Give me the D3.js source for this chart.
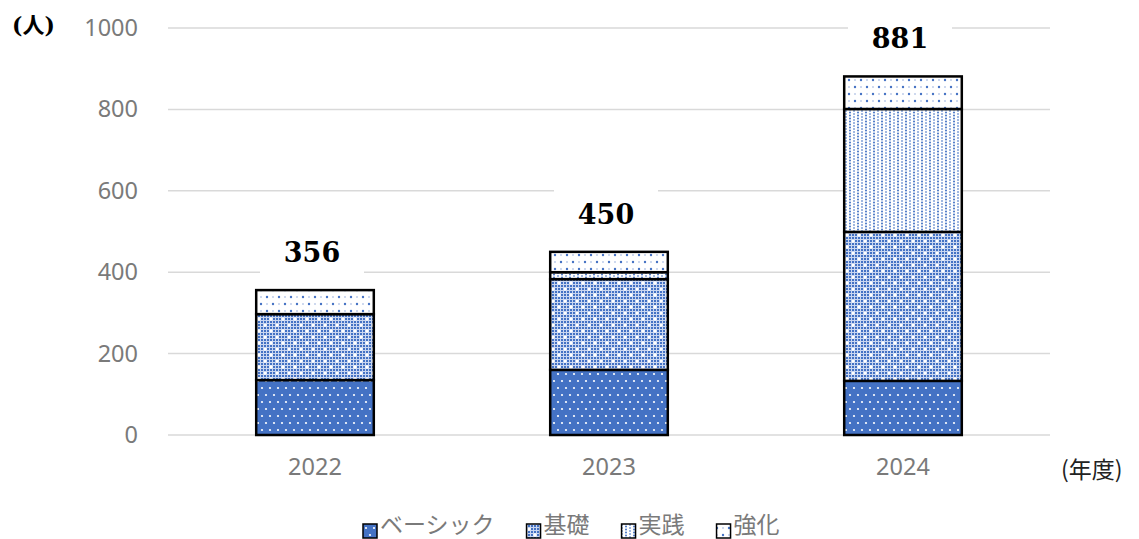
<!DOCTYPE html>
<html>
<head>
<meta charset="utf-8">
<script src="https://cdn.jsdelivr.net/npm/d3@7"></script>
<style>
  html, body { margin: 0; padding: 0; background: #fff; }
  svg { display: block; }
</style>
</head>
<body>
<div id="chart"></div>
<script>
var years = ['2022', '2023', '2024'];
var seriesNames = ['ベーシック', '基礎', '実践', '強化'];
var basic = [135, 160, 133];
var kiso = [162, 223, 366];
var jissen = [0, 17, 302];
var kyouka = [59, 50, 80];
var totals = [356, 450, 881];
var yTicks = [0, 200, 400, 600, 800, 1000];

var width = 1139;
var height = 539;
var blue = '#4472C4';
var textGray = '#7a7a7a';

var svg = d3.select('#chart')
  .append('svg')
  .attr('width', width)
  .attr('height', height);

// patterns
var defs = svg.append('defs');

var p0 = defs.append('pattern').attr('id', 'pat0')
  .attr('patternUnits', 'userSpaceOnUse').attr('width', 8).attr('height', 14);
p0.append('rect').attr('width', 8).attr('height', 14).attr('fill', blue);
p0.append('circle').attr('cx', 2).attr('cy', 3).attr('r', 1.1).attr('fill', '#fff');
p0.append('circle').attr('cx', 6).attr('cy', 10).attr('r', 1.1).attr('fill', '#fff');

var p1 = defs.append('pattern').attr('id', 'pat1')
  .attr('patternUnits', 'userSpaceOnUse').attr('width', 12).attr('height', 12);
p1.append('rect').attr('width', 12).attr('height', 12).attr('fill', '#c9d6f0');
for (var i = 0; i < 4; i++) {
  for (var j = 0; j < 4; j++) {
    p1.append('rect').attr('x', i * 3).attr('y', j * 3)
      .attr('width', 2).attr('height', 2).attr('fill', blue);
  }
}
p1.append('circle').attr('cx', 1).attr('cy', 1).attr('r', 1.7).attr('fill', '#fff');
p1.append('circle').attr('cx', 7).attr('cy', 7).attr('r', 1.7).attr('fill', '#fff');

var p2 = defs.append('pattern').attr('id', 'pat2')
  .attr('patternUnits', 'userSpaceOnUse').attr('width', 8).attr('height', 6);
p2.append('rect').attr('width', 8).attr('height', 6).attr('fill', '#fff');
p2.append('circle').attr('cx', 2).attr('cy', 1.5).attr('r', 1).attr('fill', blue);
p2.append('circle').attr('cx', 2).attr('cy', 4.5).attr('r', 1).attr('fill', blue);
p2.append('circle').attr('cx', 6).attr('cy', 0).attr('r', 1).attr('fill', '#7f9fd8');
p2.append('circle').attr('cx', 6).attr('cy', 3).attr('r', 1).attr('fill', '#7f9fd8');
p2.append('circle').attr('cx', 6).attr('cy', 6).attr('r', 1).attr('fill', '#7f9fd8');

var p3 = defs.append('pattern').attr('id', 'pat3')
  .attr('patternUnits', 'userSpaceOnUse').attr('width', 12).attr('height', 14);
p3.append('rect').attr('width', 12).attr('height', 14).attr('fill', '#fff');
p3.append('circle').attr('cx', 3).attr('cy', 3).attr('r', 1.2).attr('fill', blue);
p3.append('circle').attr('cx', 9).attr('cy', 10).attr('r', 1.2).attr('fill', blue);
p3.append('circle').attr('cx', 9).attr('cy', 3).attr('r', 0.8).attr('fill', '#8faadc');
p3.append('circle').attr('cx', 3).attr('cy', 10).attr('r', 0.8).attr('fill', '#8faadc');

var x = d3.scaleBand()
  .domain(years)
  .range([168, 1050])
  .paddingInner(0.6)
  .paddingOuter(0.3);

var y = d3.scaleLinear()
  .domain([0, 1000])
  .range([435, 28]);

// gridlines
svg.append('g')
  .selectAll('line')
  .data(yTicks)
  .enter()
  .append('line')
  .attr('x1', 168).attr('x2', 1050)
  .attr('y1', function(d) { return y(d); })
  .attr('y2', function(d) { return y(d); })
  .attr('stroke', '#d9d9d9')
  .attr('stroke-width', 1.5);

// y axis labels
var yAxis = d3.axisLeft(y).tickValues(yTicks).tickFormat(d3.format('d')).tickSize(0).tickPadding(0);
var yg = svg.append('g').attr('transform', 'translate(138,0)').call(yAxis);
yg.select('.domain').remove();
yg.selectAll('text')
  .attr('fill', textGray)
  .style('font-family', '"Noto Sans", "DejaVu Sans", sans-serif')
  .style('font-size', '23.5px');

// x axis labels
var xAxis = d3.axisBottom(x).tickSize(0).tickPadding(0);
var xg = svg.append('g').attr('transform', 'translate(0,458)').call(xAxis);
xg.select('.domain').remove();
xg.selectAll('text')
  .attr('fill', textGray)
  .style('font-family', '"Noto Sans", "DejaVu Sans", sans-serif')
  .style('font-size', '23.5px');

// stacked bars
var table = years.map(function(yr, i) {
  return { year: yr, 'ベーシック': basic[i], '基礎': kiso[i], '実践': jissen[i], '強化': kyouka[i] };
});
var stack = d3.stack().keys(seriesNames);
var layers = stack(table);

svg.append('g')
  .selectAll('g')
  .data(layers)
  .enter()
  .append('g')
  .attr('fill', function(d, i) { return 'url(#pat' + i + ')'; })
  .selectAll('rect')
  .data(function(d) { return d.filter(function(s) { return s[1] - s[0] > 0; }); })
  .enter()
  .append('rect')
  .attr('x', function(d) { return x(d.data.year); })
  .attr('width', x.bandwidth())
  .attr('y', function(d) { return y(d[1]); })
  .attr('height', function(d) { return y(d[0]) - y(d[1]); })
  .attr('stroke', '#000')
  .attr('stroke-width', 2.5);

// total labels with white boxes
var lab = svg.append('g')
  .selectAll('g')
  .data(years)
  .enter()
  .append('g')
  .attr('transform', function(d, i) {
    return 'translate(' + (x(d) + x.bandwidth() / 2 - 3) + ',' + (y(totals[i]) - 38) + ')';
  });
lab.append('rect')
  .attr('x', -52).attr('y', -26).attr('width', 104).attr('height', 52)
  .attr('fill', '#fff');
lab.append('text')
  .attr('text-anchor', 'middle')
  .attr('dy', '0.36em')
  .style('font-family', '"DejaVu Serif", serif')
  .style('font-weight', 'bold')
  .style('font-size', '27px')
  .attr('fill', '#000')
  .text(function(d, i) { return totals[i]; });

// unit labels
svg.append('text')
  .attr('x', 12).attr('y', 33)
  .style('font-family', '"DejaVu Serif", "Noto Sans CJK JP", serif')
  .style('font-weight', 'bold')
  .style('font-size', '22px')
  .attr('fill', '#000')
  .text('(人)');

svg.append('text')
  .attr('x', 1061).attr('y', 478)
  .style('font-family', '"Noto Sans CJK JP", sans-serif')
  .style('font-size', '23px')
  .attr('fill', '#222')
  .text('(年度)');

// legend
var legend = svg.append('g');
var lx = 363;
seriesNames.forEach(function(name, i) {
  legend.append('rect')
    .attr('x', lx).attr('y', 524).attr('width', 14).attr('height', 14)
    .attr('fill', 'url(#pat' + i + ')')
    .attr('stroke', '#000').attr('stroke-width', 1.5);
  var t = legend.append('text')
    .attr('x', lx + 17).attr('y', 533)
    .style('font-family', '"Noto Sans CJK JP", sans-serif')
    .style('font-size', '23px')
    .attr('fill', textGray)
    .text(name);
  lx += 17 + t.node().getComputedTextLength() + 32;
});
</script>
</body>
</html>
